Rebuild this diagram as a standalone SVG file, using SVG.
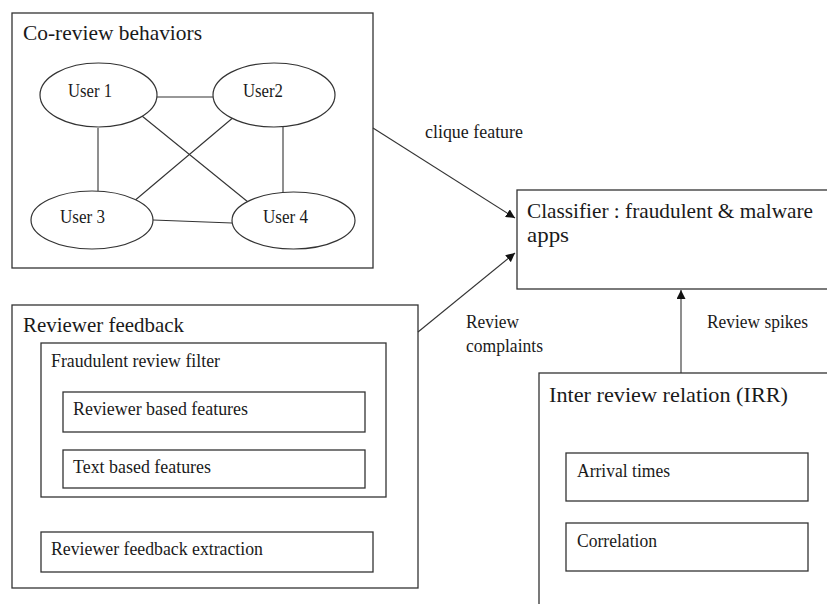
<svg xmlns="http://www.w3.org/2000/svg" width="827" height="604" viewBox="0 0 827 604">
<defs>
<style>
.box{fill:#fff;stroke:#333;stroke-width:1.3}
.ell{fill:#fff;stroke:#333;stroke-width:1.2}
.edge{fill:none;stroke:#333;stroke-width:1.1}
.t{font-family:"Liberation Serif","Times New Roman",serif;fill:#1a1a1a}
.big{font-size:22px}
.mid{font-size:18.5px}
</style>
<marker id="arr" viewBox="0 0 10 10" refX="10" refY="5" markerWidth="9" markerHeight="9" markerUnits="userSpaceOnUse" orient="auto">
<path d="M0,0 L10,5 L0,10 z" fill="#111"/>
</marker>
</defs>
<rect width="827" height="604" fill="#fff"/>

<g id="co-review">
<rect class="box" x="12" y="13" width="361" height="255"/>
<text class="t big" x="23" y="40" textLength="179" lengthAdjust="spacingAndGlyphs">Co-review behaviors</text>
</g>

<g id="graph-edges">
<line class="edge" x1="157" y1="97" x2="213" y2="97"/>
<line class="edge" x1="98" y1="128" x2="98" y2="191"/>
<line class="edge" x1="283" y1="127" x2="283" y2="192"/>
<line class="edge" x1="142" y1="116" x2="248" y2="202"/>
<line class="edge" x1="235" y1="116" x2="133" y2="202"/>
<line class="edge" x1="153" y1="220" x2="232" y2="223"/>
</g>

<g id="user1">
<ellipse class="ell" cx="98.5" cy="95" rx="58.5" ry="32"/>
<text class="t mid" x="68" y="97" textLength="44" lengthAdjust="spacingAndGlyphs">User 1</text>
</g>
<g id="user2">
<ellipse class="ell" cx="274" cy="95" rx="61" ry="32"/>
<text class="t mid" x="243" y="97" textLength="40" lengthAdjust="spacingAndGlyphs">User2</text>
</g>
<g id="user3">
<ellipse class="ell" cx="92" cy="220" rx="61" ry="29"/>
<text class="t mid" x="60" y="223" textLength="45" lengthAdjust="spacingAndGlyphs">User 3</text>
</g>
<g id="user4">
<ellipse class="ell" cx="293.5" cy="220.5" rx="61.5" ry="28.5"/>
<text class="t mid" x="263" y="223" textLength="45" lengthAdjust="spacingAndGlyphs">User 4</text>
</g>

<g id="classifier">
<rect class="box" x="517" y="190" width="320" height="99"/>
<text class="t big" x="527" y="218" textLength="286" lengthAdjust="spacingAndGlyphs">Classifier : fraudulent &amp; malware</text>
<text class="t big" x="527" y="242" textLength="42" lengthAdjust="spacingAndGlyphs">apps</text>
</g>

<g id="reviewer-feedback">
<rect class="box" x="12" y="305" width="406" height="283"/>
<text class="t big" x="23" y="332" textLength="161" lengthAdjust="spacingAndGlyphs">Reviewer feedback</text>
</g>
<g id="fraud-filter">
<rect class="box" x="41" y="343" width="345" height="154"/>
<text class="t mid" x="51" y="367" textLength="169" lengthAdjust="spacingAndGlyphs">Fraudulent review filter</text>
</g>
<g id="reviewer-based">
<rect class="box" x="63" y="392" width="302" height="40"/>
<text class="t mid" x="73" y="415" textLength="175" lengthAdjust="spacingAndGlyphs">Reviewer based features</text>
</g>
<g id="text-based">
<rect class="box" x="63" y="450" width="302" height="38"/>
<text class="t mid" x="73" y="473" textLength="138" lengthAdjust="spacingAndGlyphs">Text based features</text>
</g>
<g id="feedback-extraction">
<rect class="box" x="41" y="532" width="332" height="40"/>
<text class="t mid" x="51" y="555" textLength="212" lengthAdjust="spacingAndGlyphs">Reviewer feedback extraction</text>
</g>

<g id="irr">
<rect class="box" x="539" y="373" width="300" height="250"/>
<text class="t big" x="549" y="402" textLength="239" lengthAdjust="spacingAndGlyphs">Inter  review  relation (IRR)</text>
</g>
<g id="arrival">
<rect class="box" x="566" y="453" width="242" height="48"/>
<text class="t mid" x="577" y="477" textLength="93" lengthAdjust="spacingAndGlyphs">Arrival times</text>
</g>
<g id="correlation">
<rect class="box" x="566" y="523" width="242" height="48"/>
<text class="t mid" x="577" y="547" textLength="80" lengthAdjust="spacingAndGlyphs">Correlation</text>
</g>

<g id="connectors">
<line class="edge" x1="373" y1="128" x2="515" y2="218" marker-end="url(#arr)"/>
<line class="edge" x1="418" y1="332" x2="515" y2="253" marker-end="url(#arr)"/>
<line class="edge" x1="681" y1="373" x2="681" y2="290" marker-end="url(#arr)"/>
<text class="t mid" x="425" y="138" textLength="98" lengthAdjust="spacingAndGlyphs">clique feature</text>
<text class="t mid" x="466" y="328" textLength="53" lengthAdjust="spacingAndGlyphs">Review</text>
<text class="t mid" x="466" y="352" textLength="77" lengthAdjust="spacingAndGlyphs">complaints</text>
<text class="t mid" x="707" y="328" textLength="101" lengthAdjust="spacingAndGlyphs">Review spikes</text>
</g>
</svg>
